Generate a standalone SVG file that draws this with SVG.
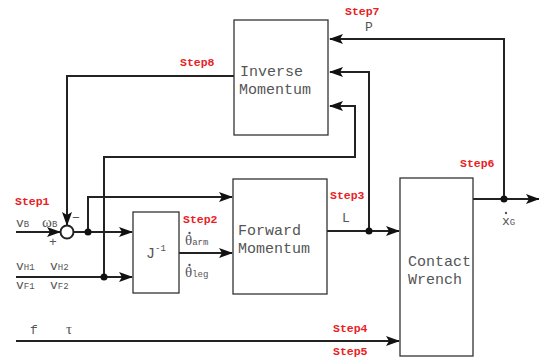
<svg xmlns="http://www.w3.org/2000/svg" width="539" height="360" viewBox="0 0 539 360">
<style>
.box{fill:#fff;stroke:#333;stroke-width:1.3}
.ln{fill:none;stroke:#222;stroke-width:2}
.arr{fill:none;stroke:#222;stroke-width:2;marker-end:url(#ah)}
.lbl{font-family:"Liberation Mono",monospace;font-size:15px;fill:#555}
.sm{font-family:"Liberation Mono",monospace;font-size:13px;fill:#555}
.sub{font-family:"Liberation Mono",monospace;font-size:9px;fill:#555}
.gr{font-family:"Liberation Serif",serif;font-size:15px;fill:#555}
.step{font-family:"Liberation Mono",monospace;font-size:11.5px;font-weight:bold;fill:#e8221f}
.dot{fill:#111}
</style>
<defs>
<marker id="ah" markerUnits="userSpaceOnUse" markerWidth="14" markerHeight="10" refX="13" refY="5" orient="auto">
<path d="M0,0 L14,5 L0,10 L3,5 Z" fill="#111"/>
</marker>
</defs>
<g id="connectors">
<path class="arr" d="M16,232 L60,232"/>
<path class="arr" d="M73,232 L132,232"/>
<path class="arr" d="M88,232 L88,197 L232,197"/>
<path class="arr" d="M234,76 L67,76 L67,225"/>
<path class="arr" d="M16,277 L132,277"/>
<path class="arr" d="M104,277 L104,157 L355,157 L355,106 L330,106"/>
<path class="arr" d="M179,253 L232,253"/>
<path class="arr" d="M327,231 L399,231"/>
<path class="arr" d="M369,231 L369,72 L330,72"/>
<path class="arr" d="M473,199 L539,199"/>
<path class="arr" d="M504,199 L504,39 L330,39"/>
<path class="arr" d="M16,341 L399,341"/>
<circle cx="67" cy="232" r="6.5" fill="#fff" stroke="#222" stroke-width="2"/>
<circle class="dot" cx="88" cy="232" r="3.5"/>
<circle class="dot" cx="104" cy="277" r="3.5"/>
<circle class="dot" cx="369" cy="231" r="3.5"/>
<circle class="dot" cx="504" cy="199" r="3.5"/>
</g>
<g id="inverse">
<rect class="box" x="234" y="20" width="94" height="115"/>
<text class="lbl" x="240" y="76">Inverse</text>
<text class="lbl" x="239" y="94">Momentum</text>
</g>
<g id="forward">
<rect class="box" x="233" y="179" width="94" height="115"/>
<text class="lbl" x="238" y="235">Forward</text>
<text class="lbl" x="238" y="253">Momentum</text>
</g>
<g id="jinv">
<rect class="box" x="133" y="212" width="46" height="81"/>
<text class="lbl" x="146" y="258">J<tspan class="sub" font-size="11" dy="-7">-1</tspan></text>
</g>
<g id="contact">
<rect class="box" x="400" y="178" width="73" height="178"/>
<text class="lbl" x="408" y="266">Contact</text>
<text class="lbl" x="408" y="284">Wrench</text>
</g>
<g id="labels">
<text class="step" x="15" y="205">Step1</text>
<text class="step" x="183" y="223">Step2</text>
<text class="step" x="330" y="199">Step3</text>
<text class="step" x="333" y="332">Step4</text>
<text class="step" x="333" y="355">Step5</text>
<text class="step" x="460" y="167">Step6</text>
<text class="step" x="345" y="15">Step7</text>
<text class="step" x="180" y="66">Step8</text>
<text class="sm" x="16" y="227">v<tspan class="sub">B</tspan></text>
<text class="gr" x="42" y="227" font-size="13">ω<tspan class="sub">B</tspan></text>
<text class="sm" x="72" y="222">−</text>
<text class="sm" x="49" y="246">+</text>
<text class="sm" x="16" y="270">v<tspan class="sub">H1</tspan></text>
<text class="sm" x="50" y="270">v<tspan class="sub">H2</tspan></text>
<text class="sm" x="16" y="289">v<tspan class="sub">F1</tspan></text>
<text class="sm" x="50" y="289">v<tspan class="sub">F2</tspan></text>
<text class="gr" x="185" y="245">θ<tspan class="sub" font-size="11">arm</tspan></text>
<circle cx="189.5" cy="233" r="1.2" fill="#555"/>
<text class="gr" x="185" y="277">θ<tspan class="sub" font-size="11">leg</tspan></text>
<circle cx="189.5" cy="265" r="1.2" fill="#555"/>
<text class="sm" x="342" y="222">L</text>
<text class="sm" x="365" y="31">P</text>
<text class="sm" x="502" y="225">x<tspan class="sub">G</tspan></text>
<circle cx="506" cy="213" r="1.2" fill="#555"/>
<text class="sm" x="30" y="334">f</text>
<text class="gr" x="66" y="334" font-size="14">τ</text>
</g>
</svg>
